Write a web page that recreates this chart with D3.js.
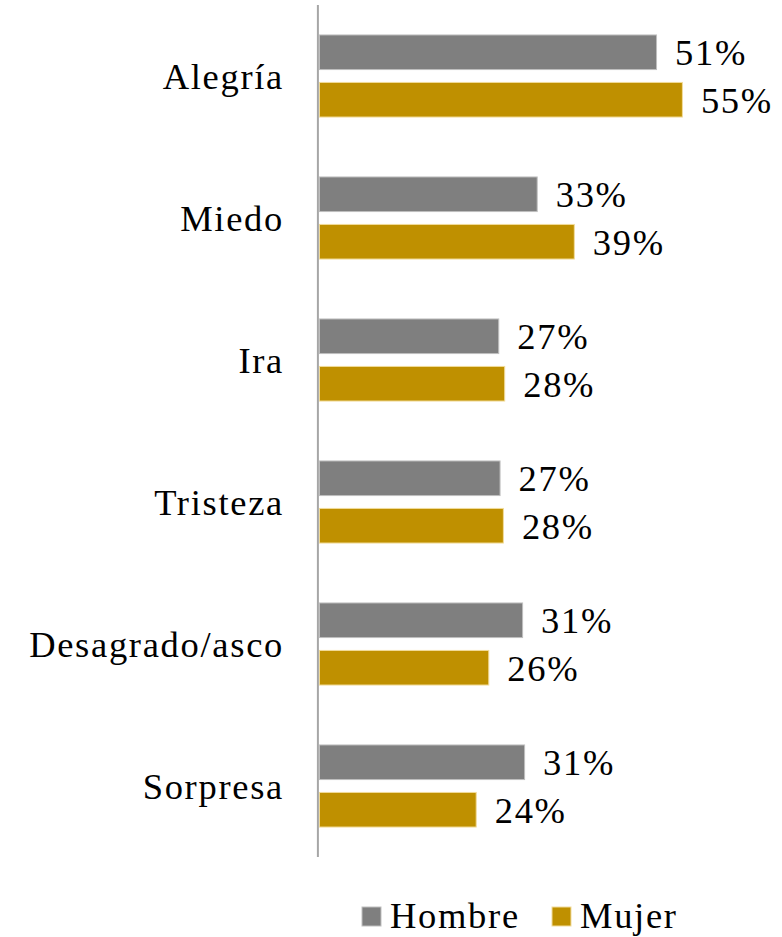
<!DOCTYPE html>
<html>
<head>
<meta charset="utf-8">
<script src="https://cdn.jsdelivr.net/npm/d3@7"></script>
<style>
  html, body { margin: 0; padding: 0; background: #fff; }
  svg { display: block; }
  text { font-family: "Liberation Serif", "Times New Roman", serif; fill: #000; letter-spacing: 1.7px; }
</style>
</head>
<body>
<svg id="chart" width="782" height="937"></svg>
<script>
const categories = ["Alegría", "Miedo", "Ira", "Tristeza", "Desagrado/asco", "Sorpresa"];
const seriesNames = ["Hombre", "Mujer"];
const hombre = [51.0, 33.0, 27.2, 27.4, 30.8, 31.1];
const mujer  = [54.9, 38.6, 28.1, 27.9, 25.7, 23.8];
const colors = ["#7f7f7f", "#bf9000"];
const strokes = ["#bfbfbf", "#f2dc9b"];

(function () {
const svg = d3.select("#chart");
const plotLeft = 318.9, plotTop = 5, plotBottom = 857;

const x = d3.scaleLinear().domain([0, 100]).range([plotLeft, plotLeft + 663]);
const y0 = d3.scaleBand().domain(categories).range([plotTop, plotBottom]).paddingInner(0.415).paddingOuter(0.2075);
const y1 = d3.scaleBand().domain(seriesNames).range([0, y0.bandwidth()]).paddingInner(0.25).paddingOuter(0);

const rows = categories.map((c, i) => ({ cat: c, vals: [hombre[i], mujer[i]] }));

const g = svg.selectAll("g.cat").data(rows).join("g")
  .attr("class", "cat")
  .attr("transform", d => `translate(0,${y0(d.cat)})`);

g.selectAll("rect").data(d => d.vals.map((v, j) => ({ v, s: seriesNames[j], j })))
  .join("rect")
  .attr("x", x(0) + 0.5)
  .attr("y", d => y1(d.s) + 0.5)
  .attr("width", d => x(d.v) - x(0) - 1)
  .attr("height", y1.bandwidth() - 1)
  .attr("fill", d => colors[d.j])
  .attr("stroke", d => strokes[d.j])
  .attr("stroke-width", 1);

g.selectAll("text.val").data(d => d.vals.map((v, j) => ({ v, s: seriesNames[j], j })))
  .join("text")
  .attr("class", "val")
  .attr("x", d => x(d.v) + 18)
  .attr("y", d => y1(d.s) + y1.bandwidth() / 2 + 13)
  .attr("font-size", 36.5)
  .text(d => Math.round(d.v) + "%");

svg.selectAll("text.catlabel").data(categories).join("text")
  .attr("class", "catlabel")
  .attr("x", 284)
  .attr("y", d => y0(d) + y0.bandwidth() / 2 + 13)
  .attr("text-anchor", "end")
  .attr("font-size", 36.5)
  .text(d => d);

svg.append("line")
  .attr("x1", x(0) - 1).attr("x2", x(0) - 1)
  .attr("y1", plotTop).attr("y2", plotBottom)
  .attr("stroke", "#a6a6a6").attr("stroke-width", 2);

const legendItems = [{ name: seriesNames[0], x: 362 }, { name: seriesNames[1], x: 552 }];
const lg = svg.selectAll("g.leg").data(legendItems).join("g")
  .attr("class", "leg")
  .attr("transform", d => `translate(${d.x},907)`);
lg.append("rect")
  .attr("width", 19).attr("height", 19)
  .attr("fill", (d, i) => colors[i])
  .attr("stroke", (d, i) => strokes[i]);
lg.append("text")
  .attr("x", 28).attr("y", 21)
  .attr("font-size", 36.5)
  .text(d => d.name);
})();
</script>
</body>
</html>
